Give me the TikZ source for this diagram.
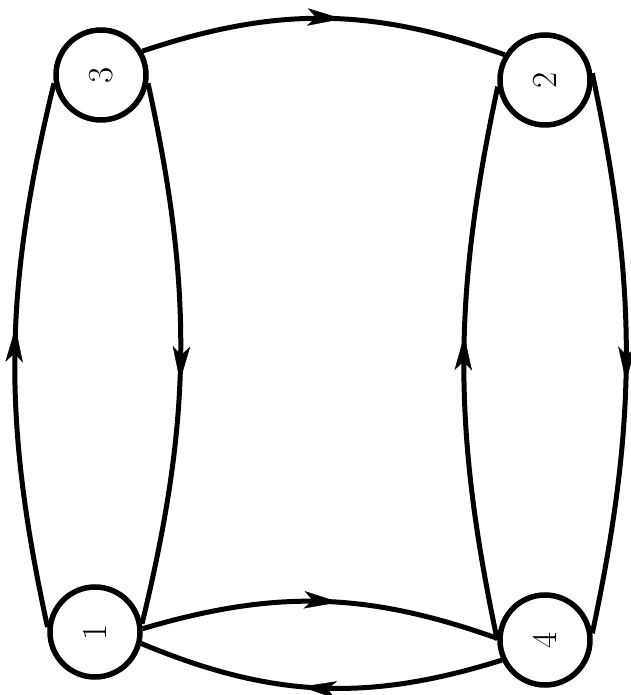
\documentclass[tikz,border=0pt]{standalone}
\usepackage{graphicx}
\usetikzlibrary{arrows.meta,decorations.markings}
\begin{document}
\begin{tikzpicture}[x=0.4mm,y=0.4mm,
	state/.style={circle,draw,line width=2.2mm,minimum size=36mm,inner sep=0pt,font=\fontsize{40}{44}\selectfont},
	flow/.style={line width=2mm,postaction={decorate},
		decoration={markings,mark=at position 0.55 with {\arrow{Stealth[length=14mm,width=7mm,inset=3.5mm,line width=0.5pt]}}}}]
	\useasboundingbox (0,0) rectangle (631,695);
	\foreach \n/\x/\y in {3/101/620, 2/545/615, 1/95/63, 4/545/55}{
		\node[state] at (\x,\y) (n\n) {\rotatebox{90}{\n}};
	}
	\foreach \s/\a/\t/\b/\c in {n3/30/n2/148/19, n3/-10/n1/10/13, n1/174/n3/190/13, n1/4/n4/178/18,
		n4/205/n1/-14/20, n2/8/n4/8/12, n4/180/n2/188/12}{
		\draw[flow] (\s.\a) to[bend left=\c] (\t.\b);
	}
\end{tikzpicture}
\end{document}
